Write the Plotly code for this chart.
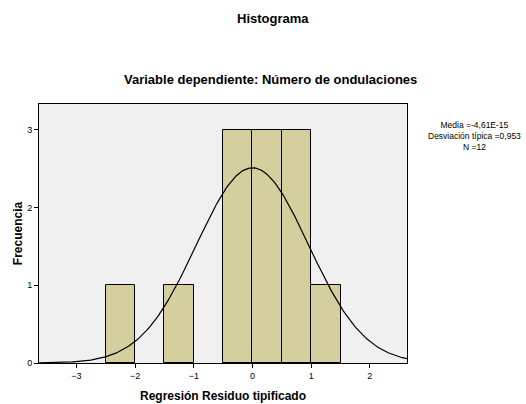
import numpy as np
import plotly.graph_objects as go

bin_centers = [-2.25, -1.25, -0.25, 0.25, 0.75, 1.25]
counts = [1, 1, 3, 3, 3, 1]
bin_width = 0.5
mean = -4.61e-15
std = 0.953
n = 12
x_ticks = [-3, -2, -1, 0, 1, 2]
y_ticks = [0, 1, 2, 3]

xs = np.linspace(-3.64, 2.64, 300)
ys = n * bin_width / (std * np.sqrt(2 * np.pi)) * np.exp(-0.5 * ((xs - mean) / std) ** 2)

fig = go.Figure()
fig.add_trace(go.Bar(x=bin_centers, y=counts, width=bin_width,
                     marker=dict(color="#d4cf9d", line=dict(color="black", width=1)),
                     showlegend=False, hoverinfo="skip"))
fig.add_trace(go.Scatter(x=xs, y=ys, mode="lines", line=dict(color="black", width=1.2),
                         showlegend=False, hoverinfo="skip"))

font = "Liberation Sans, Arial, sans-serif"
L, R, T, B = 39, 119, 104, 41
PW, PH = 526 - L - R, 404 - T - B
fig.update_layout(
    width=526, height=404,
    margin=dict(l=L, r=R, t=T, b=B, autoexpand=False),
    paper_bgcolor="white", plot_bgcolor="#f0f0f0",
    font=dict(family=font, color="black", size=9),
    bargap=0,
    xaxis=dict(range=[-3.637, 2.633], tickvals=x_ticks, ticks="outside", ticklen=4,
               tickcolor="black", showgrid=False, zeroline=False, automargin=False,
               showline=True, linecolor="black", linewidth=1, mirror=True,
               tickfont=dict(size=9),
               title=dict(text="<b>Regresión Residuo tipificado</b>", font=dict(size=12), standoff=11)),
    yaxis=dict(range=[0, 3.333], tickvals=y_ticks, ticks="outside", ticklen=4,
               tickcolor="black", showgrid=False, zeroline=False, automargin=False,
               showline=True, linecolor="black", linewidth=1, mirror=True,
               tickfont=dict(size=9),
               title=dict(text="<b>Frecuencia</b>", font=dict(size=12), standoff=1)),
    annotations=[
        dict(text="<b>Histograma</b>", xref="paper", yref="paper", x=(273-L)/PW, y=1+(T-18)/PH,
             showarrow=False, font=dict(size=13), xanchor="center", yanchor="middle"),
        dict(text="<b>Variable dependiente: Número de ondulaciones</b>", xref="paper", yref="paper",
             x=(270-L)/PW, y=1+(T-80)/PH, showarrow=False, font=dict(size=13),
             xanchor="center", yanchor="middle"),
        dict(text="Media =-4,61E-15<br>Desviación típica =0,953<br>N =12", xref="paper", yref="paper",
             x=(474-L)/PW, y=1-(136-T)/PH, showarrow=False, font=dict(size=8.5),
             xanchor="center", yanchor="middle", align="center"),
    ],
)

fig.write_html("out.html", config={"displayModeBar": False},
               post_script="document.body.style.margin='0';document.body.style.overflow='hidden';")
